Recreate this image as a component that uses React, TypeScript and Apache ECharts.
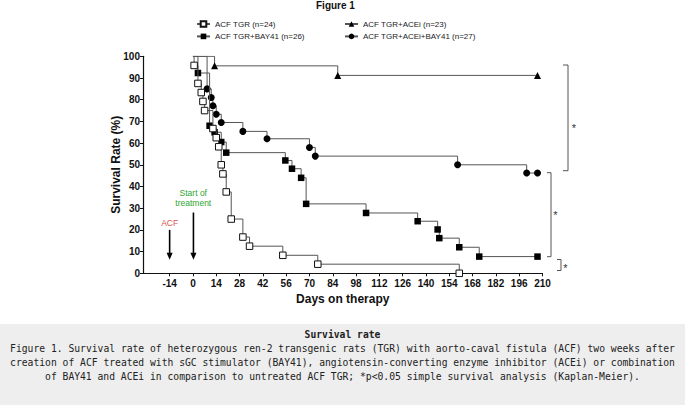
import React, { useEffect, useRef } from "react";
import * as echarts from "echarts";

// ---- Data ----
const xTickValues = [-14, 0, 14, 28, 42, 56, 70, 84, 98, 112, 126, 140, 154, 168, 182, 196, 210];

const seriesNames = [
  "ACF TGR (n=24)",
  "ACF TGR+BAY41 (n=26)",
  "ACF TGR+ACEi (n=23)",
  "ACF TGR+ACEi+BAY41 (n=27)",
];

// ACF TGR (open squares)
const tgrDays = [0, 0.7, 3, 5, 6, 7, 12, 14, 15.5, 17, 18, 20, 23, 30, 34, 54, 75, 160];
const tgrSurv = [100, 95.8, 87.5, 83.3, 79.2, 75, 66.7, 62.5, 58.3, 50, 45.8, 37.5, 25, 16.7, 12.5, 8.3, 4.2, 0];

// ACF TGR+BAY41 (filled squares)
const bayDays = [0, 3, 10, 13, 17, 20, 55.5, 59.5, 65, 68, 104, 135, 147, 148, 160, 172, 207];
const baySurv = [100, 92.3, 68, 65, 60.5, 55.6, 52, 48.2, 44, 32, 27.8, 24, 20.2, 16.2, 12, 7.7, 7.7];

// ACF TGR+ACEi (triangles)
const aceDays = [0, 13, 87, 207];
const aceSurv = [100, 95.6, 91.2, 91.2];

// ACF TGR+ACEi+BAY41 (filled circles)
const comboDays = [0, 8.5, 11, 12, 14, 17, 30, 44.5, 70, 73.5, 159, 200.5, 207];
const comboSurv = [100, 85, 81, 77.2, 73.3, 69.5, 65.4, 62, 58, 54, 50, 46.2, 46.2];

// Annotation arrows: [day, start %, tip %]
const acfArrow = [-14, 20, 6.2];
const treatArrow = [0.3, 28, 6.2];
// Annotation label anchors: [day, %]
const acfLabelAt = [-14, 23.2];
const treatLabelAt = [0.2, 34.8];

const captionTitle = "Survival rate";
const captionLines = [
  "Figure 1. Survival rate of heterozygous ren-2 transgenic rats (TGR) with aorto-caval fistula (ACF) two weeks after",
  "creation of ACF treated with sGC stimulator (BAY41), angiotensin-converting enzyme inhibitor (ACEi) or combination",
  "of BAY41 and ACEi in comparison to untreated ACF TGR; *p<0.05 simple survival analysis (Kaplan-Meier).",
];

const FONT = "'Liberation Sans', Arial, Helvetica, sans-serif";
const MONO = "'DejaVu Sans Mono', 'Liberation Mono', monospace";

function km(days: number[], surv: number[]) {
  return days.map((d, i) =>
    i === 0 ? { value: [d, surv[i]], symbol: "none" } : { value: [d, surv[i]] }
  );
}

export default function App() {
  const ref = useRef<HTMLDivElement>(null);

  useEffect(() => {
    if (!ref.current) return;
    const chart = echarts.init(ref.current, undefined, { renderer: "svg" });

    const lineStyle = { color: "#555", width: 1 };
    const legendBase = {
      orient: "vertical",
      top: 20,
      padding: 0,
      itemWidth: 13,
      itemHeight: 7,
      itemGap: 4.4,
      selectedMode: false,
      textStyle: { fontSize: 8, color: "#222", fontFamily: FONT },
    };

    const option: any = {
      animation: false,
      backgroundColor: "#ffffff",
      title: {
        text: "Figure 1",
        left: 316,
        top: 0,
        padding: 0,
        textStyle: { fontSize: 10, fontWeight: "bold", color: "#111", fontFamily: FONT },
      },
      legend: [
        { ...legendBase, data: [seriesNames[0], seriesNames[1]], left: 196 },
        { ...legendBase, data: [seriesNames[2], seriesNames[3]], left: 344 },
      ],
      grid: { left: 143, right: 142.5, top: 56.3, bottom: 131.7, containLabel: false },
      xAxis: {
        type: "value",
        min: -30,
        max: 210,
        name: "Days on therapy",
        nameLocation: "middle",
        nameGap: 17,
        nameTextStyle: { fontSize: 12, fontWeight: "bold", color: "#111", fontFamily: FONT, verticalAlign: "top" },
        axisLine: { show: true, onZero: false, lineStyle: { color: "#111", width: 1.2 } },
        axisTick: { show: true, length: 3, customValues: xTickValues, lineStyle: { color: "#111" } },
        axisLabel: {
          customValues: xTickValues,
          margin: 5,
          fontSize: 10,
          fontWeight: "bold",
          color: "#111",
          fontFamily: FONT,
        },
        splitLine: { show: false },
      },
      yAxis: {
        type: "value",
        min: 0,
        max: 100,
        interval: 10,
        name: "Survival Rate (%)",
        nameLocation: "middle",
        nameGap: 21,
        nameMoveOverlap: false,
        nameTextStyle: { fontSize: 12, fontWeight: "bold", color: "#111", fontFamily: FONT },
        axisLine: { show: true, onZero: false, lineStyle: { color: "#111", width: 1.2 } },
        axisTick: { show: true, length: 3, lineStyle: { color: "#111" } },
        axisLabel: { margin: 3, fontSize: 10, fontWeight: "bold", color: "#111", fontFamily: FONT },
        splitLine: { show: false },
      },
      series: [
        {
          name: seriesNames[2],
          type: "line",
          step: "end",
          data: km(aceDays, aceSurv),
          symbol: "triangle",
          symbolSize: 7,
          showAllSymbol: true,
          lineStyle,
          itemStyle: { color: "#000" },
          z: 2,
        },
        {
          name: seriesNames[3],
          type: "line",
          step: "end",
          data: km(comboDays, comboSurv),
          symbol: "circle",
          symbolSize: 7,
          showAllSymbol: true,
          lineStyle,
          itemStyle: { color: "#000" },
          z: 3,
        },
        {
          name: seriesNames[1],
          type: "line",
          step: "end",
          data: km(bayDays, baySurv),
          symbol: "rect",
          symbolSize: 6.5,
          showAllSymbol: true,
          lineStyle,
          itemStyle: { color: "#000" },
          z: 4,
        },
        {
          name: seriesNames[0],
          type: "line",
          step: "end",
          data: km(tgrDays, tgrSurv),
          symbol: "rect",
          symbolSize: 6.5,
          showAllSymbol: true,
          lineStyle,
          itemStyle: { color: "#fff", borderColor: "#111", borderWidth: 1 },
          z: 5,
        },
      ],
    };

    chart.setOption(option);

    const px = (p: number[]) => chart.convertToPixel({ gridIndex: 0 }, p) as number[];

    const arrow = (a: number[]) => {
      const s = px([a[0], a[1]]);
      const t = px([a[0], a[2]]);
      const head = 7;
      const half = 3;
      return [
        {
          type: "line",
          shape: { x1: s[0], y1: s[1], x2: t[0], y2: t[1] - head + 1 },
          style: { stroke: "#000", lineWidth: 1.6 },
          z: 10,
        },
        {
          type: "polygon",
          shape: { points: [[t[0] - half, t[1] - head], [t[0] + half, t[1] - head], [t[0], t[1]]] },
          style: { fill: "#000" },
          z: 10,
        },
      ];
    };

    const acfL = px(acfLabelAt);
    const trL = px(treatLabelAt);
    const star = (x: number, y: number) => ({
      type: "text",
      x,
      y,
      style: { text: "*", fontSize: 11, fill: "#333", fontFamily: FONT, align: "center", verticalAlign: "middle" },
    });

    const graphic: any[] = [
      ...arrow(acfArrow),
      ...arrow(treatArrow),
      {
        type: "text",
        x: acfL[0],
        y: acfL[1],
        style: { text: "ACF", fontSize: 8.5, fill: "#d9534f", fontFamily: FONT, align: "center", verticalAlign: "middle" },
      },
      {
        type: "text",
        x: trL[0],
        y: trL[1],
        style: {
          text: "Start of\ntreatment",
          fontSize: 8.5,
          lineHeight: 10,
          fill: "#2ea52e",
          fontFamily: FONT,
          align: "center",
          verticalAlign: "middle",
        },
      },
      // significance brackets
      {
        type: "polyline",
        shape: { points: [[563, 65], [568, 65], [568, 170.7], [563, 170.7]] },
        style: { stroke: "#555", lineWidth: 1, fill: "none" },
      },
      star(574, 128),
      {
        type: "polyline",
        shape: { points: [[547, 172.7], [551, 172.7], [551, 256.7], [547, 256.7]] },
        style: { stroke: "#555", lineWidth: 1, fill: "none" },
      },
      star(555.5, 215),
      {
        type: "polyline",
        shape: { points: [[557, 259.5], [561, 259.5], [561, 270.5], [557, 270.5]] },
        style: { stroke: "#555", lineWidth: 1, fill: "none" },
      },
      star(565.5, 268),
      // caption box
      {
        type: "rect",
        shape: { x: 0, y: 324, width: 685, height: 81 },
        style: { fill: "#eeeeee" },
        z: -1,
      },
      {
        type: "text",
        x: 342.5,
        y: 334,
        style: {
          text: captionTitle,
          fontSize: 9.7,
          fontWeight: "bold",
          fill: "#222",
          fontFamily: MONO,
          align: "center",
          verticalAlign: "middle",
        },
      },
      ...captionLines.map((t, i) => ({
        type: "text",
        x: 342.5,
        y: 348 + i * 14,
        style: {
          text: t,
          fontSize: 9.7,
          fill: "#222",
          fontFamily: MONO,
          align: "center",
          verticalAlign: "middle",
        },
      })),
    ];

    chart.setOption({ graphic });
    return () => chart.dispose();
  }, []);

  return (
    <div
      ref={ref}
      style={{ position: "absolute", left: 0, top: 0, width: 685, height: 405 }}
    />
  );
}
